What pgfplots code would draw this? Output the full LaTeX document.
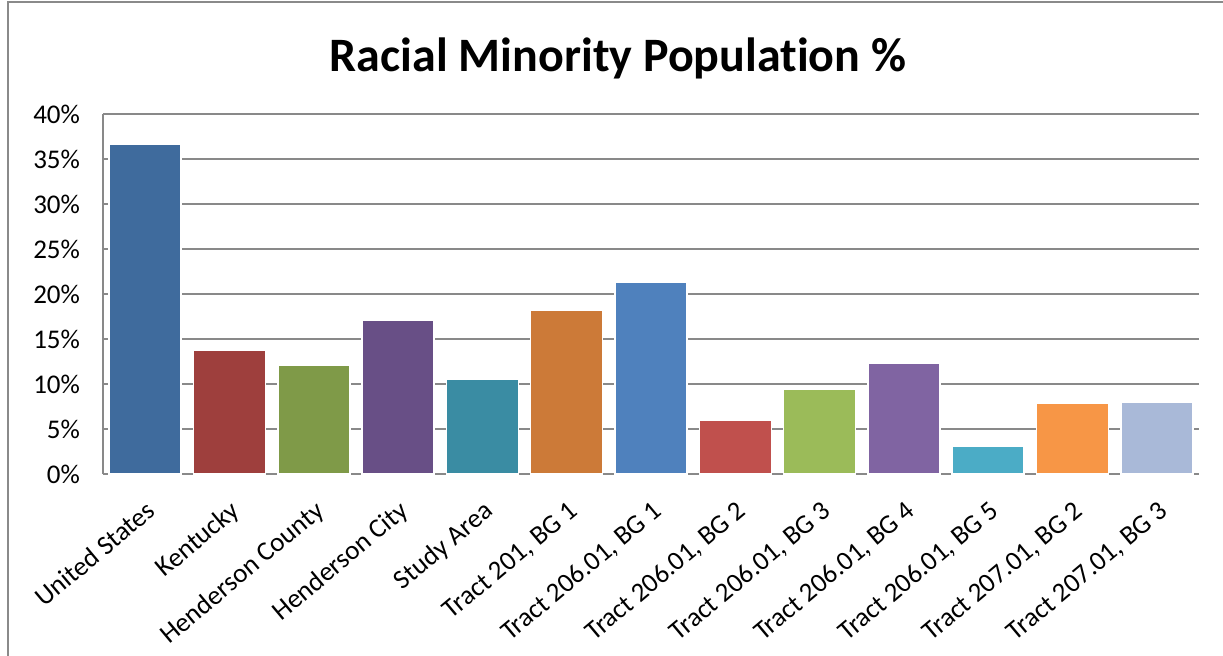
\documentclass[border=0pt]{standalone}
\usepackage{fontspec}
\setmainfont{Carlito}[Ligatures=NoCommon]
\usepackage{pgfplots}
\pgfplotsset{compat=1.18}
\definecolor{c1}{HTML}{3F6B9D}
\definecolor{c2}{HTML}{9E3F3D}
\definecolor{c3}{HTML}{7F9A48}
\definecolor{c4}{HTML}{684F86}
\definecolor{c5}{HTML}{3A8CA3}
\definecolor{c6}{HTML}{CC7A38}
\definecolor{c7}{HTML}{4F81BD}
\definecolor{c8}{HTML}{C0504D}
\definecolor{c9}{HTML}{9BBB59}
\definecolor{c10}{HTML}{8064A2}
\definecolor{c11}{HTML}{4BACC6}
\definecolor{c12}{HTML}{F79646}
\definecolor{c13}{HTML}{A9B9D8}
\definecolor{gridgray}{HTML}{898989}
\definecolor{framegray}{HTML}{8A8A8A}
\begin{document}
\begin{tikzpicture}
\useasboundingbox (0,0) rectangle (611.5pt,327.5pt);
\fill[white] (0,0) rectangle (611.5pt,327.5pt);
\draw[framegray, line width=1pt] (4pt,-1pt) -- (4pt,326.5pt) -- (612pt,326.5pt);
\node[font=\fontsize{24}{28}\selectfont\bfseries, anchor=base, inner sep=0pt] at (309pt,291.5pt) {Racial Minority Population \%};
\begin{axis}[
 at={(51.5pt,90.5pt)}, anchor=south west, scale only axis, width=548pt, height=180pt,
 xmin=-0.5, xmax=12.5, ymin=0, ymax=40,
 ytick={0,5,...,40}, yticklabels={0\%,5\%,10\%,15\%,20\%,25\%,30\%,35\%,40\%},
 xtick={0,...,12},
 xticklabels={United States, Kentucky, Henderson County, Henderson City, Study Area, {Tract 201, BG 1}, {Tract 206.01, BG 1}, {Tract 206.01, BG 2}, {Tract 206.01, BG 3}, {Tract 206.01, BG 4}, {Tract 206.01, BG 5}, {Tract 207.01, BG 2}, {Tract 207.01, BG 3}},
 x tick label style={rotate=40, anchor=base east, font=\fontsize{13.5}{16}\selectfont, inner sep=0pt, xshift=-8pt, yshift=-19pt},
 y tick label style={font=\fontsize{13.5}{16}\selectfont, xshift=-8pt},
 ybar, bar width=36pt, bar shift=0pt,
 ymajorgrids, grid style={gridgray, line width=0.9pt},
 axis line style={gridgray, line width=0.9pt},
 axis x line*=bottom, axis y line*=left,
 tick align=inside, major tick length=3pt, tick style={gridgray, line width=0.8pt},
 every axis plot/.append style={draw=white, line width=0.75pt},
]
\addplot[fill=c1] coordinates {(0,36.6)};
\addplot[fill=c2] coordinates {(1,13.7)};
\addplot[fill=c3] coordinates {(2,12.1)};
\addplot[fill=c4] coordinates {(3,17.1)};
\addplot[fill=c5] coordinates {(4,10.5)};
\addplot[fill=c6] coordinates {(5,18.2)};
\addplot[fill=c7] coordinates {(6,21.3)};
\addplot[fill=c8] coordinates {(7,5.95)};
\addplot[fill=c9] coordinates {(8,9.45)};
\addplot[fill=c10] coordinates {(9,12.3)};
\addplot[fill=c11] coordinates {(10,3.1)};
\addplot[fill=c12] coordinates {(11,7.9)};
\addplot[fill=c13] coordinates {(12,8.0)};
\end{axis}
\end{tikzpicture}
\end{document}
